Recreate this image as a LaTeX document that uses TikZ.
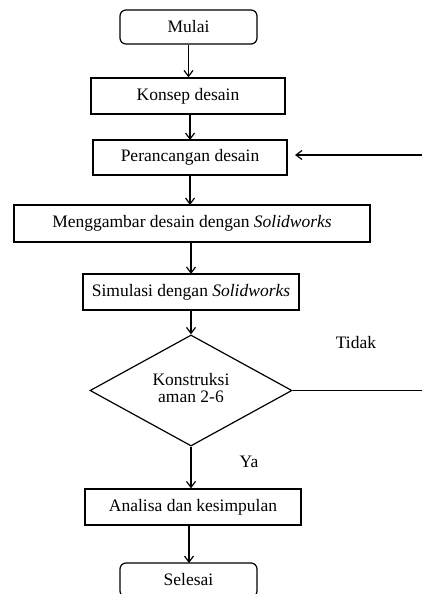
\documentclass[tikz,border=0pt]{standalone}
\usepackage{fontspec}
\setmainfont{Liberation Serif}
\usetikzlibrary{shapes.geometric,arrows.meta,calc}
\begin{document}
\begin{tikzpicture}[x=1pt,y=-1pt,
  font=\fontsize{17.5}{17.5}\selectfont,
  box/.style={draw=black,line width=1.2pt,inner sep=0pt,align=center},
  term/.style={box,rounded corners=6pt},
  dec/.style={draw=black,line width=1.2pt,diamond,inner sep=0pt,align=center,font=\fontsize{17.5}{17}\selectfont},
  arr/.style={draw=black,line width=1.2pt,-{Straight Barb[length=6pt,width=9pt,line width=1.2pt]}},
  lbl/.style={inner sep=0pt}]
\useasboundingbox (0,0) rectangle (422,594);
\node[term,minimum width=137pt,minimum height=34pt] (mulai) at (188.5,27) {Mulai};
\node[box,minimum width=194pt,minimum height=36pt] (konsep) at (188,96) {Konsep desain};
\node[box,minimum width=194pt,minimum height=35pt] (peran) at (190,157.5) {Perancangan desain};
\node[box,minimum width=356pt,minimum height=37pt] (gambar) at (192,223.5) {Menggambar desain dengan \textit{Solidworks}};
\node[box,minimum width=216pt,minimum height=36pt] (simul) at (191,292) {Simulasi dengan \textit{Solidworks}};
\node[dec,minimum width=202pt,minimum height=107pt] (kons) at (191,390.5) {\raisebox{-2pt}{\begin{tabular}{@{}c@{}}Konstruksi\\aman 2-6\end{tabular}}};
\node[box,minimum width=216pt,minimum height=36pt] (analisa) at (193,507) {Analisa dan kesimpulan};
\node[term,minimum width=137pt,minimum height=34pt] (selesai) at (188.5,580) {Selesai};
\node[lbl] (tidak) at (356,343) {Tidak};
\node[lbl] (ya) at (249,462) {Ya};
\coordinate (rb) at (424,390.5);
\coordinate (rt) at (424,155);
\coordinate (tip) at (295,155);
\draw[arr] (mulai.south) -- (mulai.south |- konsep.north);
\draw[arr] (190,114) -- (190,140);
\draw[arr] (190,175) -- (190,205);
\draw[arr] (191,242) -- (191,274);
\draw[arr] (191,310) -- (kons.north);
\draw[arr] (kons.south) -- (kons.south |- analisa.north);
\draw[arr] (189,525) -- (189,563);
\draw[arr] (kons.east) -- (rb) -- (rt) -- (tip);
\end{tikzpicture}
\end{document}
